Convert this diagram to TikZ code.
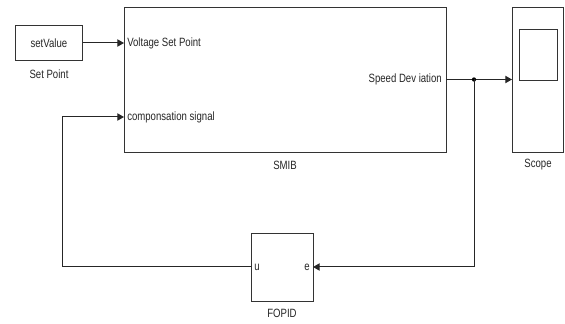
\documentclass[tikz,border=0pt]{standalone}
\usepackage{fontspec}
\setmainfont{Liberation Sans}[FakeStretch=0.8]
\usetikzlibrary{arrows.meta}
\begin{document}
\begin{tikzpicture}[x=0.75pt,y=-0.75pt,
  blk/.style={draw=black!80,line width=0.8pt,fill=white},
  lbl/.style={font=\fontsize{9}{10}\selectfont,inner sep=0pt,text=black!85},
  sig/.style={line width=0.75pt,draw=black!85},
  arr/.style={sig,-{Triangle[length=5pt,width=5.5pt]}}]
\useasboundingbox (0,0) rectangle (565,324);
% blocks
\node[blk,minimum width=50pt,minimum height=26.25pt,anchor=north west,inner sep=0pt] (sv) at (15,25) {};
\node[lbl] at (sv.center) {setValue};
\node[lbl] (svl) at (49,74) {Set Point};
\node[blk,anchor=north west,minimum width=241.5pt,minimum height=108.75pt,inner sep=0pt] (smib) at (124,7) {};
\node[lbl] (smibl) at (285,165) {SMIB};
\node[blk,anchor=north west,minimum width=38.25pt,minimum height=108.75pt,inner sep=0pt] (scope) at (512,7) {};
\node[blk,anchor=north west,minimum width=28.5pt,minimum height=38.25pt,inner sep=0pt] (screen) at (519,29) {};
\node[lbl] (scopel) at (538,165) {Scope};
\node[blk,anchor=north west,minimum width=46.5pt,minimum height=51pt,inner sep=0pt] (fopid) at (251,233) {};
\node[lbl] (fopidl) at (282,313) {FOPID};
% port labels
\node[lbl,anchor=west] (vsp) at (127,43) {Voltage Set Point};
\node[lbl,anchor=west] (cs) at (127,117) {componsation signal};
\node[lbl,anchor=east] (sd) at (442,79.5) {Speed Dev iation};
\node[lbl,anchor=west] (pu) at (254,267) {u};
\node[lbl,anchor=east] (pe) at (310,267) {e};
% coordinates
\coordinate (inV) at (124,43);
\coordinate (inC) at (124,117);
\coordinate (outS) at (446,79.5);
\coordinate (jn) at (474,79.5);
\coordinate (inScope) at (512,79.5);
\coordinate (jd) at (474,267);
\coordinate (inE) at (313,267);
\coordinate (outU) at (251,267);
\coordinate (cl) at (62,267);
\coordinate (cu) at (62,117);
% connectors
\draw[arr] (sv.east |- inV) -- (inV);
\draw[sig] (outS) -- (jn);
\draw[arr] (jn) -- (inScope);
\fill (jn) circle (1.6pt);
\draw[arr] (jn) -- (jd) -- (inE);
\draw[arr] (outU) -- (cl) -- (cu) -- (inC);
\end{tikzpicture}
\end{document}
